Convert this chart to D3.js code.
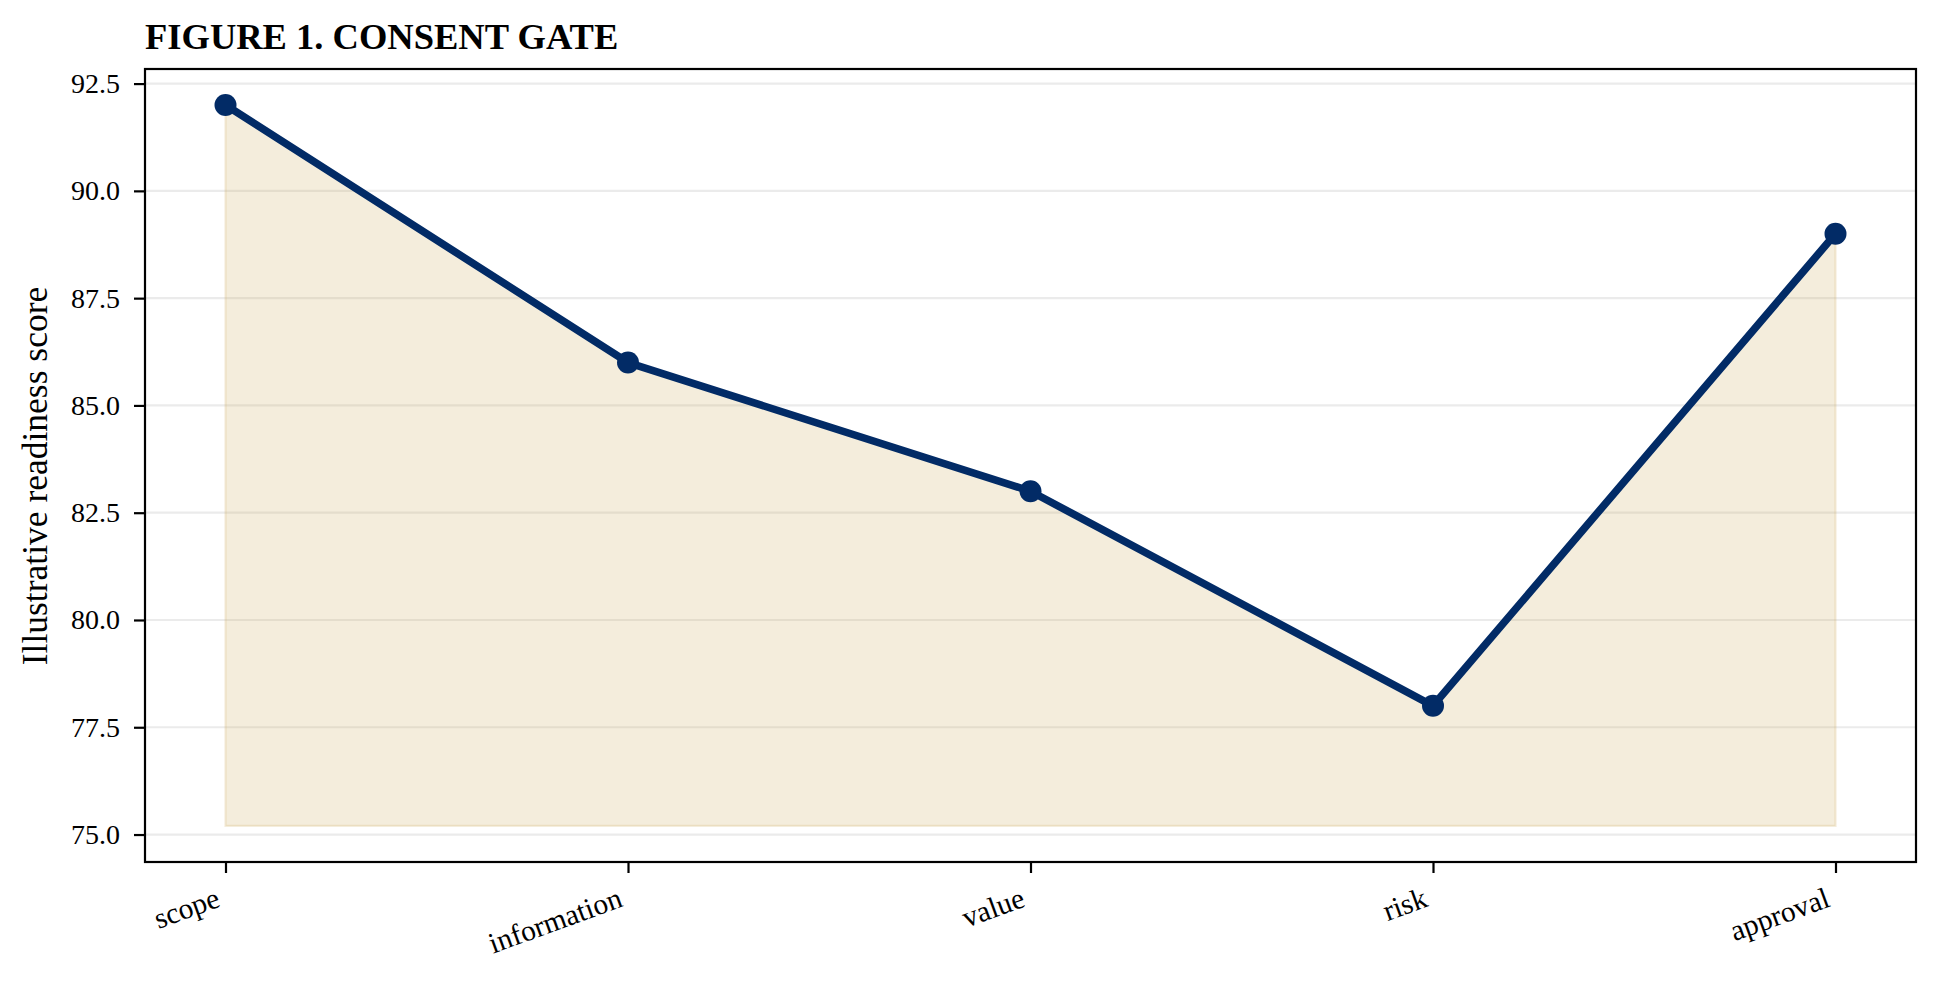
<!DOCTYPE html>
<html>
<head>
<meta charset="utf-8">
<script src="https://cdn.jsdelivr.net/npm/d3@7"></script>
<style>
  body { margin: 0; background: #fff; }
  svg text { font-family: "Liberation Serif", "Times New Roman", serif; fill: #000; }
</style>
</head>
<body>
<div id="target"></div>
<script>
var width = 1940,
    height = 983;

// data
var stages = ['scope', 'information', 'value', 'risk', 'approval'];
var scores = [92, 86, 83, 78, 89];
var yTicks = [75.0, 77.5, 80.0, 82.5, 85.0, 87.5, 90.0, 92.5];
var fillBase = 75.2;

var box = {left: 145, right: 1916, top: 69, bottom: 862};

var xScale = d3.scaleLinear().domain([-0.2, 4.2]).range([box.left, box.right]);
var yScale = d3.scaleLinear().domain([74.36, 92.84]).range([box.bottom, box.top]);

var svg = d3.select('#target').append('svg')
    .attr('width', width)
    .attr('height', height);

// grid
svg.append('g').selectAll('line')
    .data(yTicks)
    .enter().append('line')
    .attr('x1', box.left)
    .attr('x2', box.right)
    .attr('y1', function (d) { return yScale(d); })
    .attr('y2', function (d) { return yScale(d); })
    .attr('stroke', '#ebebeb')
    .attr('stroke-width', 2.2);

var points = scores.map(function (v, i) { return {i: i, v: v}; });

// shaded area under the line
var area = d3.area()
    .x(function (d) { return xScale(d.i); })
    .y0(yScale(fillBase))
    .y1(function (d) { return yScale(d.v); });

svg.append('path')
    .datum(points)
    .attr('d', area)
    .attr('fill', '#c8a450')
    .attr('fill-opacity', 0.2)
    .attr('stroke', '#c8a450')
    .attr('stroke-opacity', 0.2)
    .attr('stroke-width', 2.2);

var line = d3.line()
    .x(function (d) { return xScale(d.i); })
    .y(function (d) { return yScale(d.v); });

svg.append('path')
    .datum(points)
    .attr('d', line)
    .attr('fill', 'none')
    .attr('stroke', '#022b66')
    .attr('stroke-width', 7.6)
    .attr('stroke-linejoin', 'round');

svg.append('g').selectAll('circle')
    .data(points)
    .enter().append('circle')
    .attr('cx', function (d) { return xScale(d.i); })
    .attr('cy', function (d) { return yScale(d.v); })
    .attr('r', 11)
    .attr('fill', '#022b66');

// frame
svg.append('rect')
    .attr('x', box.left)
    .attr('y', box.top)
    .attr('width', box.right - box.left)
    .attr('height', box.bottom - box.top)
    .attr('fill', 'none')
    .attr('stroke', '#000')
    .attr('stroke-width', 2.2);

// y axis
var yAxis = d3.axisLeft(yScale)
    .tickValues(yTicks)
    .tickFormat(d3.format('.1f'))
    .tickSize(11)
    .tickSizeOuter(0)
    .tickPadding(14);

var yg = svg.append('g')
    .attr('transform', 'translate(' + box.left + ',0)')
    .call(yAxis);
yg.select('.domain').remove();
yg.selectAll('.tick line').attr('stroke', '#000').attr('stroke-width', 2.2);
yg.selectAll('.tick text')
    .style('font-size', '28px')
    .style('font-family', '"Liberation Serif", serif');

// x axis
var xAxis = d3.axisBottom(xScale)
    .tickValues(d3.range(stages.length))
    .tickFormat('')
    .tickSize(11)
    .tickSizeOuter(0);

var xg = svg.append('g')
    .attr('transform', 'translate(0,' + box.bottom + ')')
    .call(xAxis);
xg.select('.domain').remove();
xg.selectAll('.tick line').attr('stroke', '#000').attr('stroke-width', 2.2);

svg.append('g').selectAll('text')
    .data(stages)
    .enter().append('text')
    .attr('transform', function (d, i) {
        return 'translate(' + (xScale(i) - 4) + ',' + (box.bottom + 44) + ') rotate(-20)';
    })
    .attr('text-anchor', 'end')
    .style('font-size', '29.5px')
    .text(function (d) { return d; });

// labels
svg.append('text')
    .attr('transform', 'translate(47,' + 476 + ') rotate(-90)')
    .attr('text-anchor', 'middle')
    .style('font-size', '35.5px')
    .text('Illustrative readiness score');

svg.append('text')
    .attr('x', box.left)
    .attr('y', 49)
    .style('font-size', '36.5px')
    .style('font-weight', 'bold')
    .text('FIGURE 1. CONSENT GATE');
</script>
</body>
</html>
